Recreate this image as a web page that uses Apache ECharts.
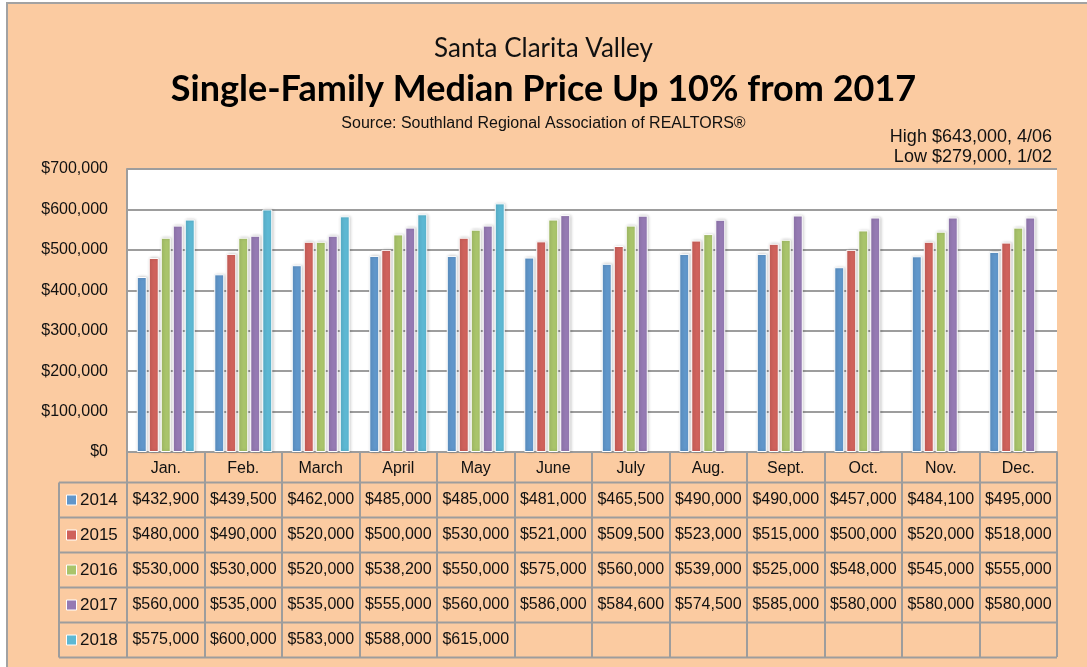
<!DOCTYPE html>
<html>
<head>
<meta charset="utf-8">
<script src="https://cdn.jsdelivr.net/npm/echarts@6/dist/echarts.min.js"></script>
<style>
  html, body { margin: 0; padding: 0; background: #fff; }
  .frame {
    position: absolute; left: 6px; top: 2px; width: 1100px; height: 700px;
    background: #fbcba1; border: 2px solid #a2a2a2; box-sizing: border-box;
  }
  #main { position: absolute; left: 0; top: 0; width: 1087px; height: 667px; }
</style>
</head>
<body>
<div class="frame"></div>
<div id="main"></div>
<script>
const months = ['Jan.', 'Feb.', 'March', 'April', 'May', 'June', 'July', 'Aug.', 'Sept.', 'Oct.', 'Nov.', 'Dec.']
const years = ['2014', '2015', '2016', '2017', '2018']
const price2014 = [432900, 439500, 462000, 485000, 485000, 481000, 465500, 490000, 490000, 457000, 484100, 495000]
const price2015 = [480000, 490000, 520000, 500000, 530000, 521000, 509500, 523000, 515000, 500000, 520000, 518000]
const price2016 = [530000, 530000, 520000, 538200, 550000, 575000, 560000, 539000, 525000, 548000, 545000, 555000]
const price2017 = [560000, 535000, 535000, 555000, 560000, 586000, 584600, 574500, 585000, 580000, 580000, 580000]
const price2018 = [575000, 600000, 583000, 588000, 615000, null, null, null, null, null, null, null]
const colors = ['#6096ca', '#cf625c', '#a9c46b', '#957ab3', '#5db8d3']

const allPrices = [price2014, price2015, price2016, price2017, price2018]
const money = v => '$' + v.toLocaleString('en-US')
const grey = '#9d9d9d'
const tableFont = 'Liberation Sans, Arial, sans-serif'

const chartDom = document.getElementById('main')
const myChart = echarts.init(chartDom, null, { renderer: 'canvas' })

const option = {
  animation: false,
  textStyle: { fontFamily: tableFont },
  title: [
    {
      text: 'Santa Clarita Valley',
      left: 'center', top: 31,
      textStyle: { fontFamily: 'Lato, sans-serif', fontWeight: 'normal', fontSize: 26, color: '#111' }
    },
    {
      text: 'Single-Family Median Price Up 10% from 2017',
      left: 'center', top: 66,
      textStyle: { fontFamily: 'Lato, sans-serif', fontWeight: 'bold', fontSize: 36, color: '#000' }
    },
    {
      text: 'Source: Southland Regional Association of REALTORS®',
      left: 'center', top: 111,
      textStyle: { fontFamily: tableFont, fontWeight: 'normal', fontSize: 16, color: '#111' }
    },
    {
      text: 'High $643,000, 4/06',
      right: 30, top: 123,
      textStyle: { fontFamily: tableFont, fontWeight: 'normal', fontSize: 18, color: '#111' }
    },
    {
      text: 'Low $279,000, 1/02',
      right: 30, top: 143,
      textStyle: { fontFamily: tableFont, fontWeight: 'normal', fontSize: 18, color: '#111' }
    }
  ],
  grid: {
    left: 127, right: 30, top: 169, bottom: 215,
    show: true, backgroundColor: '#fff', borderWidth: 0
  },
  xAxis: {
    type: 'category',
    data: months,
    axisLine: { show: true, lineStyle: { color: grey, width: 2 } },
    axisTick: { show: true, length: 205, lineStyle: { color: grey, width: 2 } },
    axisLabel: { margin: 17, verticalAlign: 'middle', fontSize: 16, color: '#111', fontFamily: tableFont }
  },
  yAxis: {
    type: 'value',
    min: 0, max: 700000, interval: 100000,
    axisLine: { show: true, lineStyle: { color: grey, width: 2 } },
    axisTick: { show: false },
    splitLine: { lineStyle: { color: grey, width: 2 } },
    axisLabel: { margin: 19, fontSize: 16, color: '#111', fontFamily: tableFont, formatter: v => money(v) }
  },
  series: years.map((y, i) => ({
    name: y,
    type: 'bar',
    data: allPrices[i],
    barWidth: 10,
    barGap: '20%',
    itemStyle: {
      color: colors[i],
      borderColor: '#fff',
      borderWidth: 1,
      shadowColor: 'rgba(0,0,0,0.22)',
      shadowBlur: 3,
      shadowOffsetX: 1,
      shadowOffsetY: 0
    }
  }))
}

myChart.setOption(option)

// data table under the plot, placed from the axis scales
const x0 = myChart.convertToPixel({ xAxisIndex: 0 }, 0)
const x1 = myChart.convertToPixel({ xAxisIndex: 0 }, 1)
const band = x1 - x0
const left = x0 - band / 2
const right = left + band * months.length
const zeroY = myChart.convertToPixel({ yAxisIndex: 0 }, 0)
const headH = 30.5
const rowH = 35
const legendLeft = 59
const graphic = []

for (let r = 0; r <= years.length; r++) {
  const y = zeroY + headH + r * rowH
  graphic.push({
    type: 'line',
    shape: { x1: legendLeft, y1: y, x2: right, y2: y },
    style: { stroke: grey, lineWidth: 2 }
  })
}
graphic.push({
  type: 'line',
  shape: { x1: legendLeft, y1: zeroY + headH, x2: legendLeft, y2: zeroY + headH + rowH * years.length },
  style: { stroke: grey, lineWidth: 2 }
})

years.forEach((yr, r) => {
  const cy = zeroY + headH + r * rowH + rowH / 2
  graphic.push({
    type: 'rect',
    shape: { x: 66.5, y: cy - 5, width: 10, height: 10 },
    style: { fill: colors[r], stroke: '#fff', lineWidth: 1 }
  })
  graphic.push({
    type: 'text',
    x: 80, y: cy,
    style: { text: yr, fontSize: 17, fontFamily: tableFont, fill: '#111', verticalAlign: 'middle' }
  })
  allPrices[r].forEach((v, c) => {
    if (v == null) return
    graphic.push({
      type: 'text',
      x: myChart.convertToPixel({ xAxisIndex: 0 }, c), y: cy,
      style: { text: money(v), fontSize: 16, fontFamily: tableFont, fill: '#111', align: 'center', verticalAlign: 'middle' }
    })
  })
})

myChart.setOption({ graphic: graphic })
</script>
</body>
</html>
